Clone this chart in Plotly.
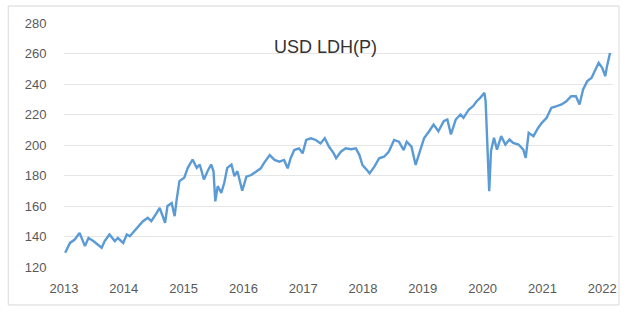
import plotly.graph_objects as go

# decimal-year positions and index values
years = [2013.02, 2013.10, 2013.18, 2013.26, 2013.35, 2013.41, 2013.49, 2013.57, 2013.63, 2013.68,
         2013.76, 2013.85, 2013.90, 2013.99, 2014.05, 2014.10, 2014.15, 2014.23, 2014.32, 2014.40,
         2014.46, 2014.55, 2014.60, 2014.69, 2014.73, 2014.80, 2014.85, 2014.88, 2014.93, 2015.01,
         2015.07, 2015.15, 2015.22, 2015.27, 2015.34, 2015.40, 2015.46, 2015.50, 2015.53, 2015.57,
         2015.63, 2015.68, 2015.73, 2015.80, 2015.85, 2015.90, 2015.98, 2016.05, 2016.13, 2016.21,
         2016.29, 2016.34, 2016.44, 2016.52, 2016.60, 2016.68, 2016.74, 2016.79, 2016.85, 2016.93,
         2016.99, 2017.05, 2017.13, 2017.21, 2017.29, 2017.36, 2017.43, 2017.51, 2017.55, 2017.63,
         2017.71, 2017.80, 2017.88, 2017.94, 2017.99, 2018.04, 2018.11, 2018.19, 2018.27, 2018.35,
         2018.43, 2018.52, 2018.60, 2018.68, 2018.73, 2018.81, 2018.88, 2018.94, 2019.02, 2019.10,
         2019.18, 2019.26, 2019.35, 2019.41, 2019.47, 2019.55, 2019.63, 2019.68, 2019.77, 2019.84,
         2019.90, 2019.96, 2020.03, 2020.05, 2020.08, 2020.11, 2020.14, 2020.19, 2020.24, 2020.31,
         2020.38, 2020.45, 2020.51, 2020.60, 2020.68, 2020.72, 2020.77, 2020.85, 2020.93, 2020.99,
         2021.07, 2021.15, 2021.24, 2021.32, 2021.40, 2021.48, 2021.56, 2021.62, 2021.68, 2021.75,
         2021.82, 2021.88, 2021.94, 2022.00, 2022.05, 2022.08, 2022.13]
values = [129.3, 135.8, 138.0, 142.4, 133.7, 139.0, 137.0, 134.8, 132.6, 137.0,
          141.3, 137.0, 139.0, 135.8, 141.3, 140.2, 142.4, 145.7, 150.0, 152.2,
          150.0, 155.5, 158.8, 149.0, 160.0, 162.0, 153.3, 163.0, 176.3, 178.5,
          185.0, 190.5, 185.0, 187.2, 177.4, 182.8, 187.2, 182.8, 163.0, 173.0,
          168.6, 175.2, 185.0, 187.2, 179.6, 182.8, 170.0, 179.2, 180.3, 182.5,
          184.7, 188.0, 193.4, 190.2, 189.1, 190.2, 184.7, 191.3, 196.7, 197.8,
          194.5, 203.3, 204.4, 203.3, 201.0, 204.4, 199.0, 194.5, 191.3, 195.6,
          197.8, 197.2, 197.8, 193.4, 186.9, 184.7, 181.4, 185.8, 191.3, 192.3,
          195.6, 203.3, 202.2, 196.7, 202.2, 198.9, 186.9, 194.5, 204.4, 208.7,
          213.4, 209.0, 215.6, 216.7, 206.9, 216.7, 220.0, 217.8, 223.3, 225.5,
          228.7, 230.9, 234.2, 228.7, 200.3, 169.7, 196.0, 204.7, 197.0, 205.8,
          200.3, 203.6, 201.4, 200.3, 197.0, 191.6, 208.0, 205.8, 211.3, 214.5,
          217.8, 224.4, 225.5, 226.6, 228.7, 232.0, 232.0, 226.6, 236.4, 241.9,
          244.0, 249.5, 253.9, 250.6, 245.1, 251.7, 260.4]

tick_years = [2013, 2014, 2015, 2016, 2017, 2018, 2019, 2020, 2021, 2022]
y_ticks = [120, 140, 160, 180, 200, 220, 240, 260, 280]
title_text = "USD LDH(P)"

fig = go.Figure()
fig.add_trace(go.Scatter(x=years, y=values, mode="lines",
                         line=dict(color="#5b9bd5", width=2.4), hoverinfo="skip"))

fig.update_layout(
    width=629, height=314,
    margin=dict(l=64, r=14, t=23, b=47),
    paper_bgcolor="white", plot_bgcolor="white",
    showlegend=False,
    font=dict(family="Liberation Sans, Arial", size=13, color="#595959"),
    xaxis=dict(range=[2013, 2022.18], tickmode="array", tickvals=tick_years,
               ticktext=[str(t) for t in tick_years], showgrid=False, zeroline=False,
               showline=False, ticks="outside", ticklen=9, tickcolor="rgba(0,0,0,0)"),
    yaxis=dict(range=[120, 280], tickmode="array", tickvals=y_ticks,
               showgrid=True, gridcolor="#e6e6e6", gridwidth=1, zeroline=False,
               showline=False, ticks="outside", ticklen=14, tickcolor="rgba(0,0,0,0)"),
    annotations=[dict(text=title_text, xref="paper", yref="paper", x=0.476, y=0.902,
                      showarrow=False, xanchor="center", yanchor="middle",
                      font=dict(size=18, color="#333333"))],
    shapes=[dict(type="rect", xref="paper", yref="paper", x0=-0.1016, x1=1.0109,
                 y0=-0.1557, y1=1.0697, line=dict(color="#d9d9d9", width=1), layer="below")],
)

fig.write_html("out.html", config={"displayModeBar": False},
               post_script="document.body.style.margin='0';")
